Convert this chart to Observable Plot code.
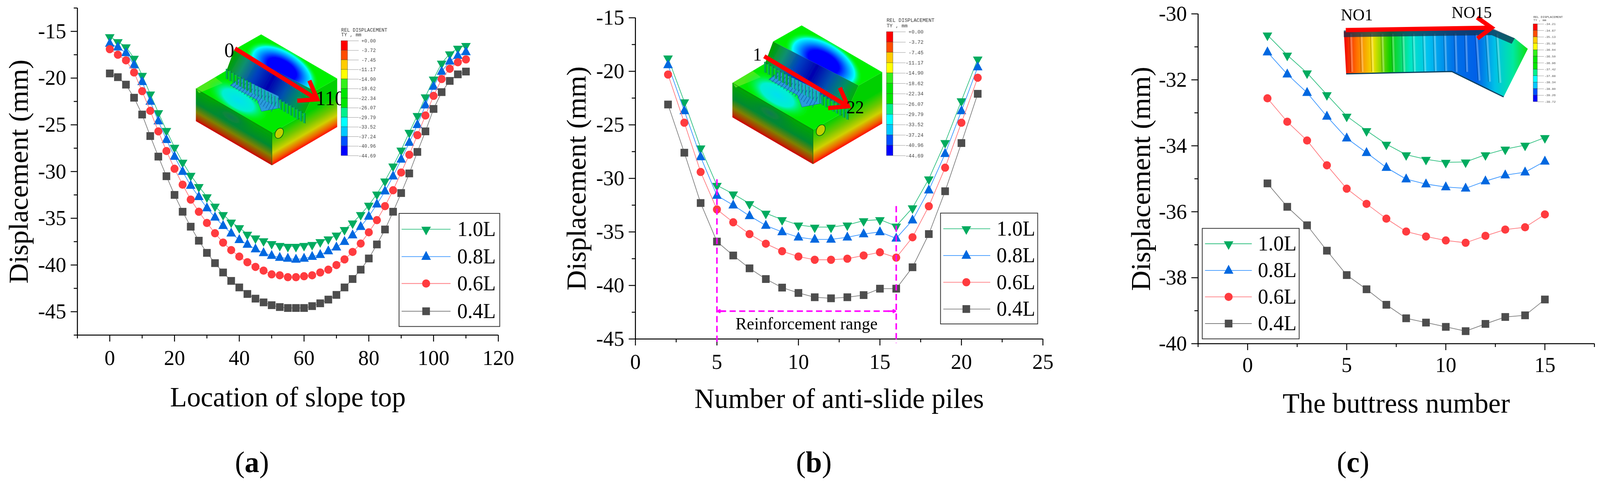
<!DOCTYPE html>
<html><head><meta charset="utf-8">
<script src="https://cdn.jsdelivr.net/npm/d3@7"></script>
<script src="https://cdn.jsdelivr.net/npm/@observablehq/plot@0.6"></script>
<style>
html,body{margin:0;padding:0;background:#fff;overflow:hidden}
#page{position:absolute;left:0;top:0;width:4166px;height:1236px;overflow:hidden;background:#fff;transform-origin:0 0}
#page svg.plot-abs{position:absolute;max-width:none}
.cap{position:absolute;font:76px "Liberation Serif",serif;transform:translate(-50%,-50%);color:#000}
.cap b{font-weight:bold}
</style></head><body><div id="page"></div>
<script>
// ---------- data ----------
const seriesNames = ["1.0L","0.8L","0.6L","0.4L"];
const seriesColors = ["#00ab5f","#0068e0","#ff3b3f","#4d4d4d"];
const lineColors = ["#30c080","#3a96ff","#ff7b80","#808080"];

const xA = [0,2.5,5,7.5,10,12.5,15,17.5,20,22.5,25,27.5,30,32.5,35,37.5,40,42.5,45,47.5,50,52.5,55,57.5,60,62.5,65,67.5,70,72.5,75,77.5,80,82.5,85,87.5,90,92.5,95,97.5,100,102.5,105,107.5,110];
const a10 = [-15.56,-16.1,-16.65,-17.87,-19.7,-21.7,-23.7,-25.6,-27.4,-29,-30.4,-31.6,-32.7,-33.7,-34.6,-35.4,-36,-36.7,-37.1,-37.4,-37.7,-37.9,-38,-38,-37.9,-37.8,-37.5,-37.2,-36.8,-36.2,-35.5,-34.6,-33.6,-32.4,-31,-29.4,-27.7,-25.8,-24,-22,-20.1,-18.4,-17.4,-16.8,-16.5];
const a08 = [-16.3,-16.7,-17.3,-18.6,-20.4,-22.5,-24.6,-26.6,-28.4,-30,-31.5,-32.7,-33.9,-34.9,-35.8,-36.6,-37.3,-37.8,-38.3,-38.7,-39,-39.2,-39.3,-39.4,-39.3,-39.1,-38.9,-38.5,-38.1,-37.5,-36.8,-35.9,-34.8,-33.5,-32.1,-30.5,-28.7,-26.9,-25,-22.9,-20.9,-19.3,-18.2,-17.6,-17.2];
const a06 = [-16.9,-17.5,-18.1,-19.4,-21.4,-23.5,-25.7,-27.8,-29.7,-31.4,-33,-34.3,-35.5,-36.6,-37.6,-38.4,-39.1,-39.7,-40.2,-40.6,-41,-41.1,-41.3,-41.3,-41.2,-41.1,-40.8,-40.5,-40,-39.4,-38.6,-37.7,-36.5,-35.2,-33.7,-32,-30.1,-28.2,-26.1,-24,-21.9,-20.1,-19,-18.3,-18];
const a04 = [-19.5,-19.9,-20.7,-22.1,-23.9,-26.2,-28.4,-30.5,-32.5,-34.3,-35.9,-37.4,-38.7,-39.8,-40.8,-41.7,-42.4,-43.1,-43.6,-44,-44.3,-44.5,-44.6,-44.6,-44.6,-44.4,-44.1,-43.7,-43.2,-42.4,-41.5,-40.5,-39.3,-37.8,-36.2,-34.3,-32.3,-30.2,-27.9,-25.7,-23.3,-21.5,-20.3,-19.6,-19.3];

const xB = [2,3,4,5,6,7,8,9,10,11,12,13,14,15,16,17,18,19,20,21];
const b10 = [-18.75,-22.85,-27.15,-30.65,-31.45,-32.35,-33.25,-33.85,-34.35,-34.55,-34.55,-34.35,-33.95,-33.85,-34.45,-32.75,-30.05,-26.65,-22.75,-18.85];
const b08 = [-19.4,-23.7,-28,-31.6,-32.5,-33.5,-34.4,-35,-35.5,-35.7,-35.7,-35.5,-35.2,-35,-35.6,-33.9,-31.1,-27.7,-23.7,-19.6];
const b06 = [-20.3,-24.8,-29.4,-32.9,-34.1,-35.2,-36.1,-36.8,-37.3,-37.6,-37.6,-37.5,-37.2,-36.9,-37.4,-35.5,-32.6,-29,-24.8,-20.6];
const b04 = [-23.1,-27.6,-32.3,-35.9,-37.2,-38.4,-39.4,-40.2,-40.7,-41.1,-41.2,-41.1,-40.9,-40.3,-40.3,-38.3,-35.2,-31.2,-26.7,-22.1];

const xC = [1,2,3,4,5,6,7,8,9,10,11,12,13,14,15];
const c10 = [-30.64,-31.25,-31.79,-32.45,-33.1,-33.54,-33.95,-34.27,-34.41,-34.5,-34.49,-34.27,-34.1,-33.98,-33.75];
const c08 = [-31.16,-31.83,-32.39,-33.11,-33.77,-34.21,-34.66,-35.01,-35.16,-35.25,-35.29,-35.07,-34.89,-34.8,-34.47];
const c06 = [-32.56,-33.27,-33.84,-34.59,-35.3,-35.76,-36.21,-36.6,-36.75,-36.87,-36.94,-36.73,-36.54,-36.47,-36.08];
const c04 = [-35.14,-35.85,-36.41,-37.18,-37.92,-38.35,-38.82,-39.23,-39.36,-39.49,-39.62,-39.4,-39.19,-39.14,-38.66];

const contourColors = ["#ff0000","#ff4d00","#ffcc00","#ffff00","#33f01a","#00e600","#00e600","#00f08c","#00ffff","#00c8ff","#0050ff","#0000ff"];
const contourLabelsAB = ["+0.00","-3.72","-7.45","-11.17","-14.90","-18.62","-22.34","-26.07","-29.79","-33.52","-37.24","-40.96","-44.69"];
const contourLabelsC = ["-34.21","-34.67","-35.13","-35.59","-36.04","-36.50","-36.96","-37.42","-37.88","-38.34","-38.80","-39.26","-39.72"];

// ---------- symbols ----------
const triDown = {draw(c,s){const r=Math.sqrt(s/Math.PI);c.moveTo(-r,-0.5*r);c.lineTo(r,-0.5*r);c.lineTo(0,1.25*r);c.closePath();}};
const triUp   = {draw(c,s){const r=Math.sqrt(s/Math.PI);c.moveTo(-r,0.67*r);c.lineTo(r,0.67*r);c.lineTo(0,-1.17*r);c.closePath();}};
const symbols = [triDown,triUp,"circle","square"];
const radii = [12.5,12.5,10.5,11.2];
const serif = '"Liberation Serif",serif';
const page = document.getElementById("page");
// the browser viewport may be narrower than the 4166 px layout: fit the layout to it
page.style.transform = `scale(${innerWidth/4166},${innerHeight/1236})`;

function panel(cfg){
  const marks = [];
  const minorLen = 9, majorLen = 17;
  marks.push(Plot.axisX({ticks:cfg.xMinor,tickSize:minorLen,tickFormat:()=>"",strokeWidth:2.4,label:null}));
  marks.push(Plot.axisY({ticks:cfg.yMinor,tickSize:minorLen,tickFormat:()=>"",strokeWidth:2.4,label:null}));
  marks.push(Plot.axisX({ticks:cfg.xMajor,tickSize:majorLen,tickPadding:cfg.xPad,tickFormat:d=>String(d),fontSize:55,strokeWidth:2.4,label:null}));
  marks.push(Plot.axisY({ticks:cfg.yMajor,tickSize:majorLen,tickPadding:12,tickFormat:d=>String(d),fontSize:55,strokeWidth:2.4,label:null}));
  marks.push(Plot.ruleX([cfg.xDomain[0]],{stroke:"#000",strokeWidth:2.6}));
  marks.push(Plot.ruleY([cfg.yDomain[0]],{stroke:"#000",strokeWidth:2.6}));
  marks.push(Plot.text([cfg.yTitle],{frameAnchor:"left",dx:cfg.yTitleDx,rotate:-90,fontSize:72,fontFamily:serif,fill:"#000",textAnchor:"middle",lineAnchor:"middle"}));
  marks.push(Plot.text([cfg.xTitle],{frameAnchor:"bottom",dy:cfg.xTitleDy,fontSize:72,fontFamily:serif,fill:"#000",textAnchor:"middle",lineAnchor:"middle"}));
  cfg.series.forEach((ys,i)=>{
    const rows = cfg.xs.map((x,j)=>({x,y:ys[j]}));
    marks.push(Plot.line(rows,{x:"x",y:"y",stroke:lineColors[i],strokeWidth:1.8}));
    marks.push(Plot.dot(rows,{x:"x",y:"y",fill:seriesColors[i],stroke:"none",symbol:symbols[i],r:radii[i]}));
  });
  cfg.extraAbove && marks.push(...cfg.extraAbove);
  const L = cfg.legend;
  marks.push(Plot.rect([0],{x1:L.x1,x2:L.x2,y1:L.y1,y2:L.y2,fill:"#fff",stroke:"#333",strokeWidth:2}));
  seriesNames.forEach((n,i)=>{
    marks.push(Plot.ruleY([L.rows[i]],{x1:L.lx1,x2:L.lx2,stroke:lineColors[i],strokeWidth:1.8}));
    marks.push(Plot.dot([L.rows[i]],{x:L.sx,y:d=>d,fill:seriesColors[i],stroke:"none",symbol:symbols[i],r:radii[i]}));
    marks.push(Plot.text([n],{x:L.tx,y:L.rows[i],fontSize:54,fontFamily:serif,fill:"#000",textAnchor:"start",lineAnchor:"middle"}));
  });
  const svg = Plot.plot({
    width:cfg.w,height:1236,
    marginLeft:cfg.ml,marginRight:cfg.mr,marginTop:cfg.mt,marginBottom:cfg.mb,
    x:{domain:cfg.xDomain,axis:null},y:{domain:cfg.yDomain,axis:null},
    style:{fontFamily:serif,background:"transparent",color:"#000",overflow:"visible"},
    marks
  });
  svg.classList.add("plot-abs");
  svg.style.left = cfg.left+"px"; svg.style.top = "0px";
  page.appendChild(svg);
  return svg;
}

panel({left:0,w:1400,ml:201,mr:103,mt:20,mb:379,
  xDomain:[-10,120],yDomain:[-47.5,-12.5],
  xMajor:[0,20,40,60,80,100,120],xMinor:[-10,10,30,50,70,90,110],
  yMajor:[-15,-20,-25,-30,-35,-40,-45],yMinor:[-12.5,-17.5,-22.5,-27.5,-32.5,-37.5,-42.5,-47.5],
  xPad:20,yTitle:"Displacement (mm)",xTitle:"Location of slope top",yTitleDx:-152,xTitleDy:159,
  xs:xA,series:[a10,a08,a06,a04],
  legend:{x1:89.4,x2:120.5,y1:-34.5,y2:-46.6,rows:[-36.17,-39.1,-41.98,-44.95],lx1:90.2,lx2:105.3,sx:97.7,tx:107.3}
});

const magenta = "#ff00ff";
panel({left:1400,w:1400,ml:254,mr:85,mt:45,mb:369,
  xDomain:[0,25],yDomain:[-45,-15],
  xMajor:[0,5,10,15,20,25],xMinor:[2.5,7.5,12.5,17.5,22.5],
  yMajor:[-15,-20,-25,-30,-35,-40,-45],yMinor:[-17.5,-22.5,-27.5,-32.5,-37.5,-42.5],
  xPad:20,yTitle:"Displacement (mm)",xTitle:"Number of anti-slide piles",yTitleDx:-153,xTitleDy:153,
  xs:xB,series:[b10,b08,b06,b04],
  extraAbove:[
    Plot.ruleX([5],{y1:-30.1,y2:-45.4,stroke:magenta,strokeWidth:4,strokeDasharray:"16 9"}),
    Plot.ruleX([16],{y1:-32.6,y2:-45.4,stroke:magenta,strokeWidth:4,strokeDasharray:"16 9"}),
    Plot.ruleY([-42.4],{x1:5.2,x2:15.8,stroke:magenta,strokeWidth:4,strokeDasharray:"16 9"}),
    Plot.arrow([0],{x1:5.5,y1:-42.4,x2:5.05,y2:-42.4,stroke:magenta,strokeWidth:4,headLength:30,bend:0,insetEnd:0}),
    Plot.arrow([0],{x1:15.5,y1:-42.4,x2:15.95,y2:-42.4,stroke:magenta,strokeWidth:4,headLength:30,bend:0,insetEnd:0}),
    Plot.text(["Reinforcement range"],{x:10.5,y:-43.6,fontSize:44,fontFamily:serif,fill:"#000",lineAnchor:"middle"})
  ],
  legend:{x1:18.73,x2:24.69,y1:-33.26,y2:-43.61,rows:[-34.7,-37.2,-39.7,-42.2],lx1:18.9,lx2:21.78,sx:20.3,tx:22.16}
});

panel({left:2800,w:1366,ml:319,mr:15,mt:35,mb:357,
  xDomain:[-2.5,17.5],yDomain:[-40,-30],
  xMajor:[0,5,10,15],xMinor:[-2.5,2.5,7.5,12.5,17.5],
  yMajor:[-30,-32,-34,-36,-38,-40],yMinor:[-31,-33,-35,-37,-39],
  xPad:16,yTitle:"Displacement (mm)",xTitle:"The buttress number",yTitleDx:-148,xTitleDy:153,
  xs:xC,series:[c10,c08,c06,c04],
  legend:{x1:-2.28,x2:2.61,y1:-36.51,y2:-39.86,rows:[-36.97,-37.78,-38.58,-39.39],lx1:-2.14,lx2:0.22,sx:-0.96,tx:0.52}
});

// ---------- 3D model insets (illustration, not data) ----------
function arrowHead(x1,y1,x2,y2,len){
  const a=Math.atan2(y2-y1,x2-x1),o=0.62;
  return `M${x2-len*Math.cos(a-o)} ${y2-len*Math.sin(a-o)}L${x2} ${y2}L${x2-len*Math.cos(a+o)} ${y2-len*Math.sin(a+o)}`;
}
function block(id,tx,ty,s){
  const piles = d3.range(24).map(i=>{
    const t=i/23,x=80+t*202,y=88+t*113;
    return `<line x1="${x}" y1="${y}" x2="${x}" y2="${y+26}" stroke="${i<8?"#00b050":i<16?"#10b8b0":"#00b060"}" stroke-width="4.4"/><line x1="${x+3}" y1="${y+1}" x2="${x+3}" y2="${y+27}" stroke="#0a5a40" stroke-width="1"/>`;
  }).join("");
  const treads = d3.range(16).map(i=>{
    const t=i/15,x=112+t*100,y=112+t*56;
    return `<line x1="${x}" y1="${y}" x2="${x-22+t*6}" y2="${y+20+t*10}" stroke="#1468b0" stroke-width="1.5"/>`;
  }).join("");
  return `<g transform="translate(${tx},${ty}) scale(${s})">
  <defs>
   <linearGradient id="${id}L" gradientUnits="userSpaceOnUse" x1="99" y1="195" x2="63" y2="258">
    <stop offset="0" stop-color="#00a800"/><stop offset=".45" stop-color="#008a30"/><stop offset=".72" stop-color="#7f8000"/><stop offset=".9" stop-color="#b03800"/><stop offset="1" stop-color="#d00000"/></linearGradient>
   <linearGradient id="${id}R" gradientUnits="userSpaceOnUse" x1="283" y1="204" x2="319" y2="267">
    <stop offset="0" stop-color="#00d000"/><stop offset=".35" stop-color="#70c800"/><stop offset=".62" stop-color="#d0d000"/><stop offset=".85" stop-color="#f06000"/><stop offset="1" stop-color="#ff0000"/></linearGradient>
   <linearGradient id="${id}S" gradientUnits="userSpaceOnUse" x1="95" y1="60" x2="300" y2="175">
    <stop offset="0" stop-color="#00a000"/><stop offset=".15" stop-color="#109070"/><stop offset=".32" stop-color="#0040c0"/><stop offset=".5" stop-color="#0000b0"/><stop offset=".68" stop-color="#0050b0"/><stop offset=".85" stop-color="#009060"/><stop offset="1" stop-color="#00b000"/></linearGradient>
   <radialGradient id="${id}B"><stop offset="0" stop-color="#0000ff"/><stop offset=".4" stop-color="#0000ff"/><stop offset=".62" stop-color="#0090ff"/><stop offset=".8" stop-color="#00ffff"/><stop offset="1" stop-color="#00ff00" stop-opacity="0"/></radialGradient>
   <radialGradient id="${id}C"><stop offset="0" stop-color="#00e0f0"/><stop offset=".5" stop-color="#00f0d0"/><stop offset="1" stop-color="#00ff00" stop-opacity="0"/></radialGradient>
   <radialGradient id="${id}T"><stop offset="0" stop-color="#0a7a50"/><stop offset="1" stop-color="#0a8a30" stop-opacity="0"/></radialGradient>
   <clipPath id="${id}c1"><polygon points="100,39 170,0 368,113 310,145"/></clipPath>
   <clipPath id="${id}c2"><polygon points="0,139 80,92 282,205 198,252"/></clipPath>
   <clipPath id="${id}c3"><polygon points="0,139 198,252 198,335 0,222"/></clipPath>
   <filter id="${id}f"><feGaussianBlur stdDeviation="0.7"/></filter>
  </defs>
  <g filter="url(#${id}f)">
  <polygon points="198,252 282,205 310,145 368,113 368,237 198,335" fill="url(#${id}R)"/>
  <polygon points="0,139 198,252 198,335 0,222" fill="url(#${id}L)"/>
  <g clip-path="url(#${id}c3)"><ellipse cx="92" cy="212" rx="70" ry="26" transform="rotate(30 92 212)" fill="url(#${id}T)"/></g>
  <polygon points="100,39 170,0 368,113 310,145" fill="#00f000"/>
  <g clip-path="url(#${id}c1)"><ellipse cx="224" cy="88" rx="105" ry="54" transform="rotate(30 224 88)" fill="url(#${id}B)"/></g>
  <polygon points="100,39 310,145 282,205 80,92" fill="url(#${id}S)"/>
  <polygon points="0,139 80,92 282,205 198,252" fill="#00ea00"/>
  <polygon points="0,139 50,110 70,125 8,150" fill="#60e820" opacity=".8"/>
  <g clip-path="url(#${id}c2)"><ellipse cx="110" cy="168" rx="90" ry="40" transform="rotate(30 110 168)" fill="url(#${id}C)"/></g>
  <polygon points="90,130 116,112 215,158 219,188 171,197 160,168" fill="#2a9cdc" stroke="#1a70b0" stroke-width="1"/>
  ${treads}${piles}
  <ellipse cx="217" cy="253" rx="10" ry="14" transform="rotate(30 217 253)" fill="#c0d000" stroke="#0a5a10" stroke-width="1.6"/>
  <polyline points="0,139 198,252 198,335" fill="none" stroke="#0a6a10" stroke-width="1"/>
  </g></g>`;
}
const ribs = d3.range(15).map(i=>{
  const x=3518+i*27.2;
  return `<line x1="${x}" y1="86" x2="${x+(i>11?8:3)}" y2="${i>11?170+i*3:184}" stroke="#fff" stroke-opacity=".28" stroke-width="5"/><line x1="${x-4}" y1="86" x2="${x-4+(i>11?8:3)}" y2="${i>11?170+i*3:184}" stroke="#000" stroke-opacity=".3" stroke-width="1.4"/>`;
}).join("");
const redA = `fill="none" stroke="#ff0000" stroke-width="11" stroke-linejoin="miter"`;
const overlay = `<svg class="plot-abs" style="left:0;top:0" width="4166" height="1236" font-family='"Liberation Serif",serif'>
 ${block("a",510,88,1)}
 <line x1="612" y1="124" x2="822" y2="252" stroke="#ff0000" stroke-width="11"/>
 <path d="${arrowHead(612,124,826,254,52)}" ${redA}/>
 <text x="597" y="134" font-size="52" text-anchor="middle" dominant-baseline="middle">0</text>
 <text x="860" y="257" font-size="52" text-anchor="middle" dominant-baseline="middle">110</text>
 ${block("b",1907,65,1.06)}
 <line x1="1990" y1="144" x2="2204" y2="270" stroke="#ff0000" stroke-width="11"/>
 <path d="${arrowHead(1990,144,2208,272,52)}" ${redA}/>
 <text x="1972" y="144" font-size="46" text-anchor="middle" dominant-baseline="middle">1</text>
 <text x="2227" y="279" font-size="46" text-anchor="middle" dominant-baseline="middle">22</text>
 <defs><linearGradient id="wall" gradientUnits="userSpaceOnUse" x1="3499" y1="0" x2="3978" y2="0">
  <stop offset="0" stop-color="#f00000"/><stop offset=".07" stop-color="#ff7000"/><stop offset=".16" stop-color="#f0e000"/><stop offset=".25" stop-color="#10d000"/><stop offset=".36" stop-color="#00e8c0"/><stop offset=".46" stop-color="#00c0f0"/><stop offset=".6" stop-color="#0070e8"/><stop offset=".72" stop-color="#0060e8"/><stop offset=".82" stop-color="#00c0e8"/><stop offset=".92" stop-color="#00e8a0"/><stop offset="1" stop-color="#10e010"/></linearGradient></defs>
 <polygon points="3499,81 3884,75 3944,98 3978,125 3915,248 3780,183 3505,189" fill="url(#wall)"/>
 ${ribs}
 <polygon points="3499,78 3884,72 3944,98 3936,112 3884,90 3499,95" fill="#103050" opacity=".75"/>
 <polyline points="3505,189 3780,183 3915,248" fill="none" stroke="#084060" stroke-width="3"/>
 <line x1="3504" y1="77" x2="3878" y2="71" stroke="#ff0000" stroke-width="11"/>
 <path d="${arrowHead(3504,77,3884,71,46)}" ${redA}/>
 <text x="3533" y="42" font-size="43" text-anchor="middle" dominant-baseline="middle">NO1</text>
 <text x="3832" y="36" font-size="43" text-anchor="middle" dominant-baseline="middle">NO15</text>
</svg>`;
page.insertAdjacentHTML("beforeend",overlay);

// ---------- contour colour bars ----------
function colorbar(o){
  const idx = d3.range(o.labels.length);
  const svg = Plot.plot({
    width:o.w,height:o.barH+o.mt+8,marginLeft:0,marginRight:0,marginTop:o.mt,marginBottom:8,
    x:{domain:[0,o.w],axis:null},y:{domain:[0,12],reverse:true,axis:null},
    style:{background:"transparent",color:"#333",overflow:"visible"},
    marks:[
      Plot.rect(contourColors,{x1:0,x2:o.barW,y1:(d,i)=>i,y2:(d,i)=>i+1,fill:d=>d,stroke:"#333",strokeWidth:.6}),
      Plot.ruleY(idx,{x1:o.barW,x2:o.tickEnd,stroke:"#999",strokeWidth:1}),
      Plot.text(idx,{x:o.w-2,y:d=>d,text:d=>o.labels[d],textAnchor:"end",fontFamily:'"Liberation Mono",monospace',fontSize:o.fs,fill:"#444"}),
      Plot.text(["REL DISPLACEMENT"],{x:0,y:-o.t1,textAnchor:"start",fontFamily:'"Liberation Mono",monospace',fontSize:o.fs,fill:"#333"}),
      Plot.text(["TY , mm"],{x:0,y:-o.t2,textAnchor:"start",fontFamily:'"Liberation Mono",monospace',fontSize:o.fs,fill:"#333"})
    ]
  });
  svg.classList.add("plot-abs");
  svg.style.left=o.left+"px"; svg.style.top=(o.top-o.mt)+"px";
  page.appendChild(svg);
}
colorbar({left:888,top:104,barH:294,barW:17,tickEnd:46,w:92,mt:40,fs:12.5,labels:contourLabelsAB,t1:1.14,t2:0.65});
colorbar({left:2308,top:81,barH:317,barW:17,tickEnd:50,w:98,mt:40,fs:13,labels:contourLabelsAB,t1:1.14,t2:0.6});
colorbar({left:3992,top:61,barH:199,barW:11,tickEnd:28,w:60,mt:26,fs:8,labels:contourLabelsC,t1:1.08,t2:0.6});

// ---------- panel captions ----------
[["a",656],["b",2119],["c",3523]].forEach(([t,x])=>{
  const d=document.createElement("div");d.className="cap";d.style.left=x+"px";d.style.top="1182px";
  d.innerHTML=`(<b>${t}</b>)`;page.appendChild(d);
});
</script></body></html>
